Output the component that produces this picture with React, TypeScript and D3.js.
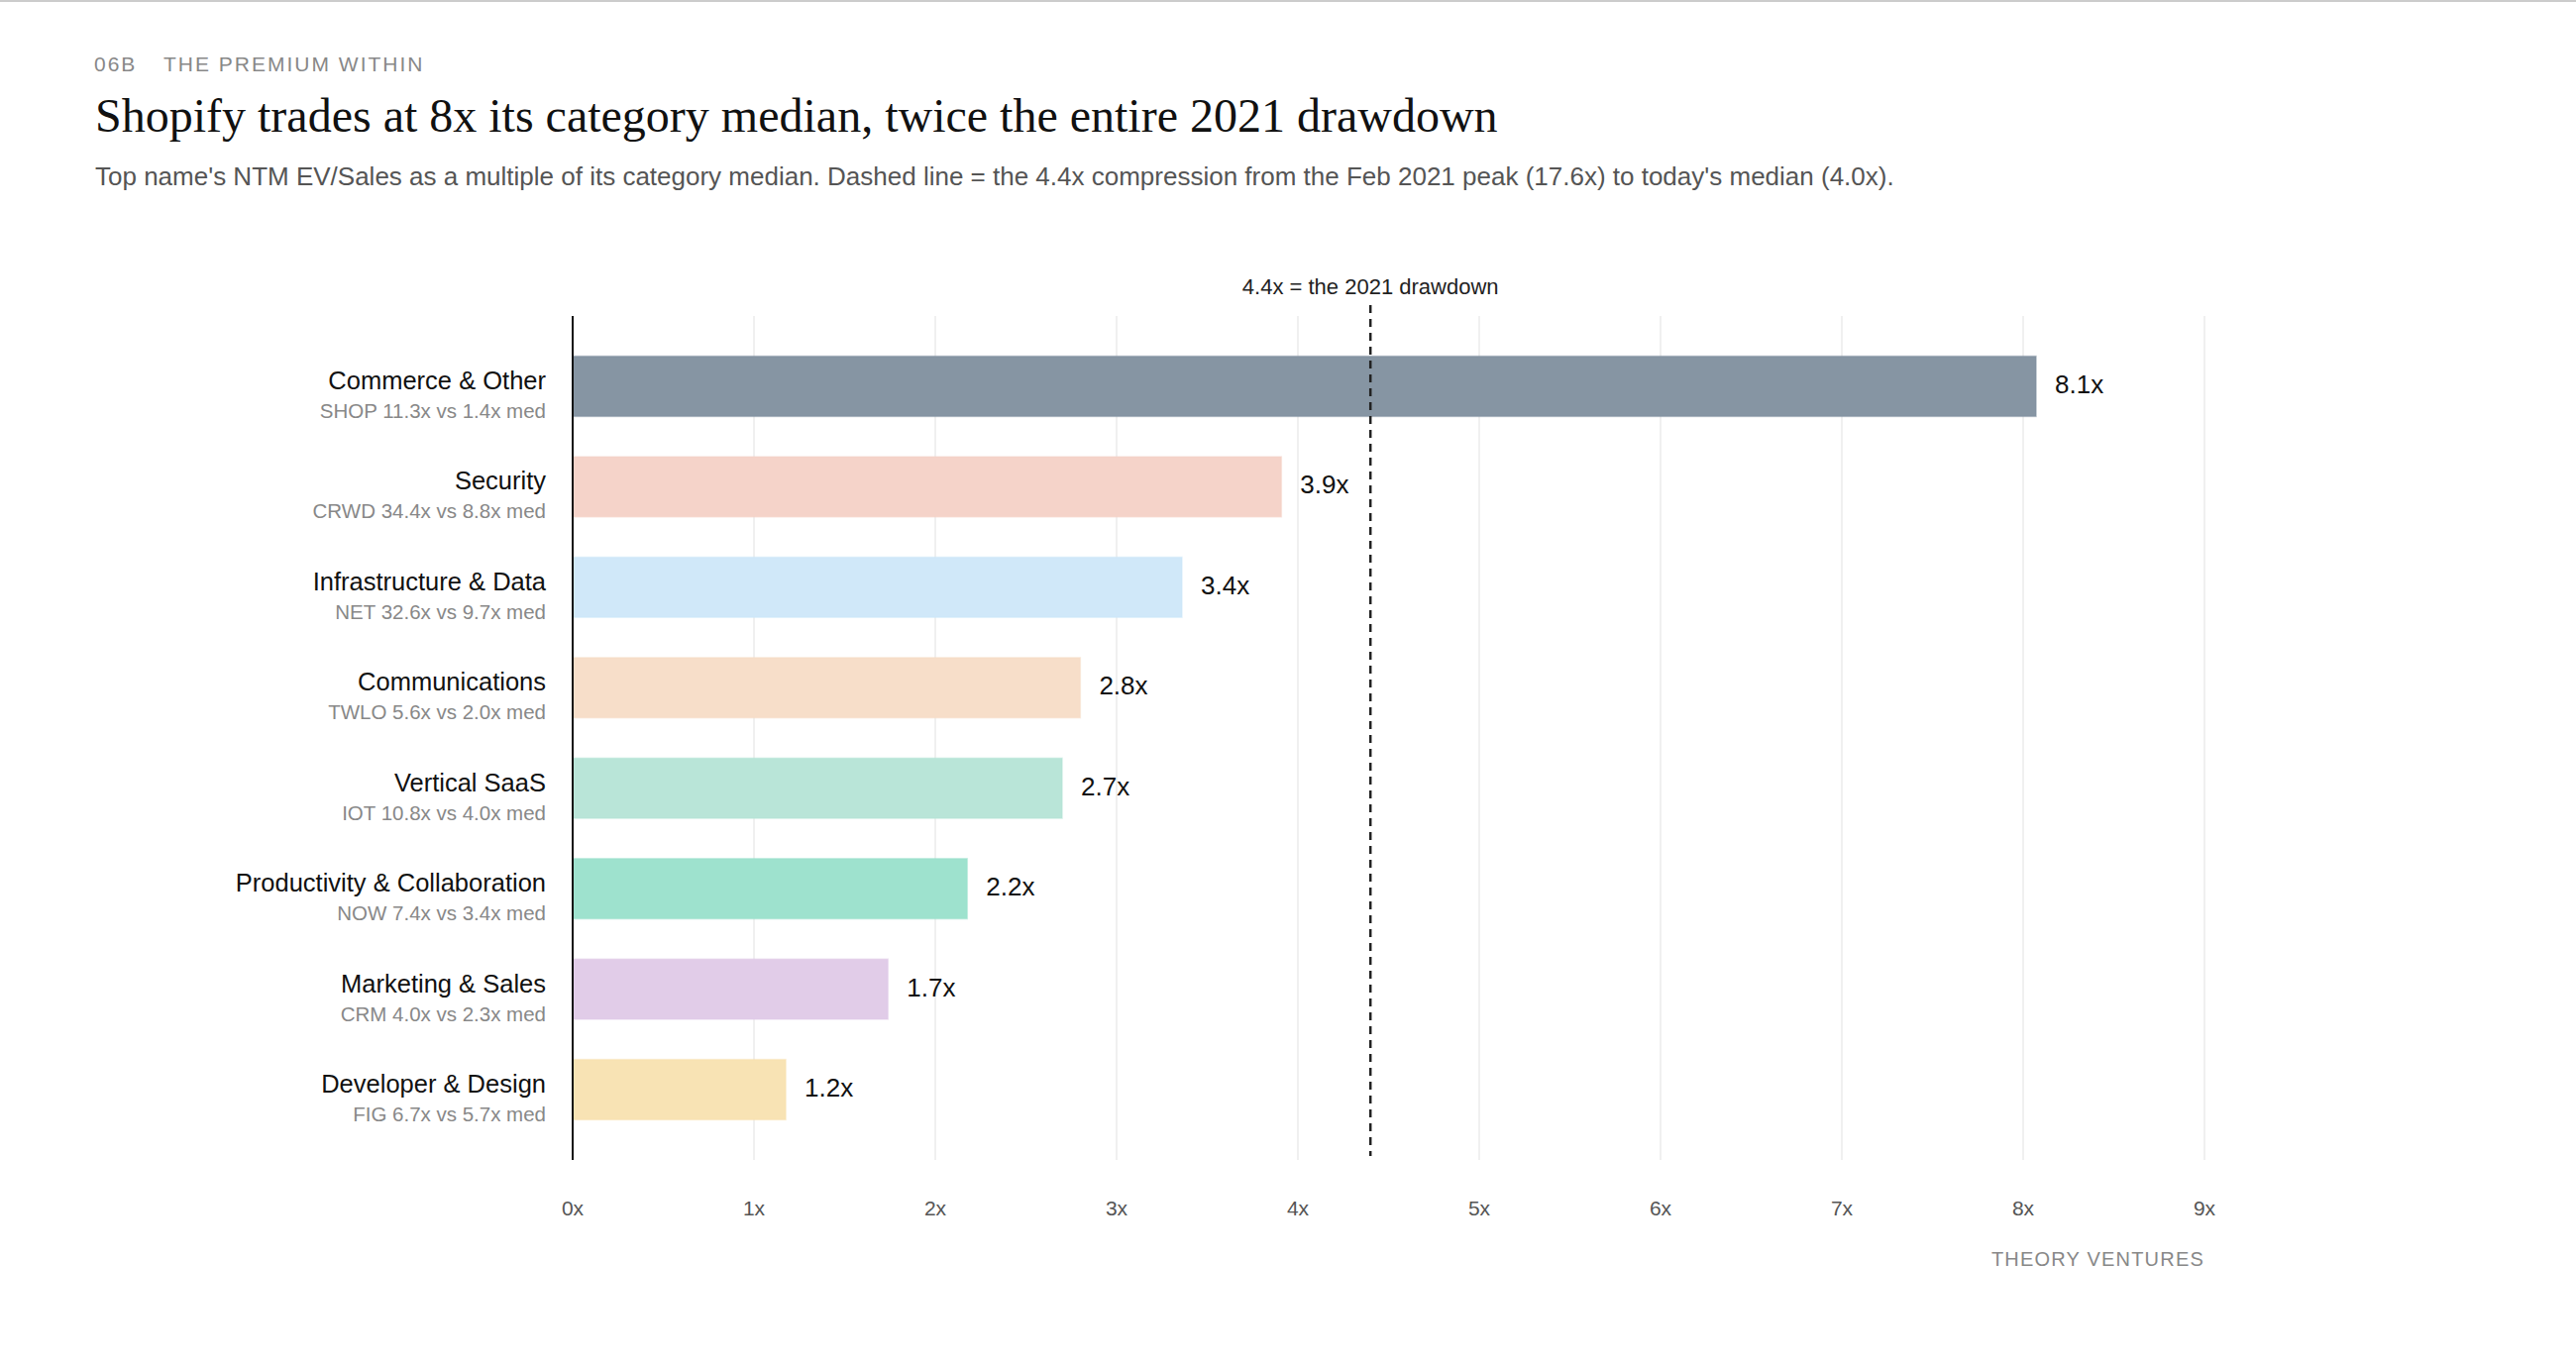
import React, { useEffect } from "react";
import * as d3 from "d3";

const categories = [
  "Commerce & Other",
  "Security",
  "Infrastructure & Data",
  "Communications",
  "Vertical SaaS",
  "Productivity & Collaboration",
  "Marketing & Sales",
  "Developer & Design",
];
const leaders = ["SHOP", "CRWD", "NET", "TWLO", "IOT", "NOW", "CRM", "FIG"];
const leaderMultiple = [11.3, 34.4, 32.6, 5.6, 10.8, 7.4, 4.0, 6.7];
const medianMultiple = [1.4, 8.8, 9.7, 2.0, 4.0, 3.4, 2.3, 5.7];
const barColors = [
  "#7f8f9e",
  "#f4d1c6",
  "#cde7f9",
  "#f7dcc6",
  "#b5e4d6",
  "#99e0cb",
  "#dfc9e7",
  "#f8e1b0",
];
const ticks = [0, 1, 2, 3, 4, 5, 6, 7, 8, 9];
const drawdown = 4.4;

const SANS = "'Liberation Sans', Arial, Helvetica, sans-serif";
const SERIF = "Georgia, 'Liberation Serif', 'DejaVu Serif', serif";

export default function App() {
  useEffect(() => {
    document.body.style.margin = "0";
  }, []);

  const W = 2600;
  const H = 1378;
  const premiums = leaderMultiple.map((v, i) => v / medianMultiple[i]);
  const x = d3.scaleLinear().domain([0, 9]).range([578, 2225]);
  const y = d3
    .scaleBand<string>()
    .domain(categories)
    .range([319, 1171])
    .paddingInner(0.4)
    .paddingOuter(0.4);
  const bw = y.bandwidth();
  const axisTop = 319;
  const axisBottom = 1171;

  return (
    <svg width={W} height={H} style={{ display: "block", background: "#fff" }}>
      <rect x={0} y={0} width={W} height={2} fill="#cccccc" />

      <text x={95} y={72} fontFamily={SANS} fontSize={21} fill="#888" letterSpacing={2}>
        06B
      </text>
      <text x={165} y={72} fontFamily={SANS} fontSize={21} fill="#888" letterSpacing={2}>
        THE PREMIUM WITHIN
      </text>
      <text x={96} y={133} fontFamily={SERIF} fontSize={48} fill="#111">
        Shopify trades at 8x its category median, twice the entire 2021 drawdown
      </text>
      <text x={96} y={187} fontFamily={SANS} fontSize={26} fill="#555">
        Top name's NTM EV/Sales as a multiple of its category median. Dashed line = the 4.4x compression from the Feb 2021 peak (17.6x) to today's median (4.0x).
      </text>

      {/* gridlines */}
      {ticks
        .filter((t) => t > 0)
        .map((t) => (
          <line
            key={"g" + t}
            x1={x(t)}
            x2={x(t)}
            y1={axisTop}
            y2={axisBottom}
            stroke="#ebebeb"
            strokeWidth={1.5}
          />
        ))}

      {/* bars */}
      {categories.map((c, i) => {
        const y0 = y(c) as number;
        const cy = y0 + bw / 2;
        return (
          <g key={c}>
            <rect
              x={x(0)}
              y={y0}
              width={x(premiums[i]) - x(0)}
              height={bw}
              fill={barColors[i]}
              fillOpacity={0.95}
              stroke={barColors[i]}
              strokeOpacity={0.45}
              strokeWidth={1.5}
            />
            <text
              x={x(premiums[i]) + 19}
              y={cy + 7}
              fontFamily={SANS}
              fontSize={26}
              fill="#111"
            >
              {premiums[i].toFixed(1)}x
            </text>
            <text x={551} y={cy + 3} textAnchor="end" fontFamily={SANS} fontSize={25.5} fill="#111">
              {c}
            </text>
            <text x={551} y={cy + 32} textAnchor="end" fontFamily={SANS} fontSize={20.5} fill="#888">
              {`${leaders[i]} ${leaderMultiple[i].toFixed(1)}x vs ${medianMultiple[i].toFixed(1)}x med`}
            </text>
          </g>
        );
      })}

      {/* axis line */}
      <line x1={x(0)} x2={x(0)} y1={axisTop} y2={axisBottom} stroke="#111" strokeWidth={2} />

      {/* drawdown reference */}
      <line
        x1={x(drawdown)}
        x2={x(drawdown)}
        y1={308}
        y2={1167}
        stroke="#222"
        strokeWidth={2.5}
        strokeDasharray="8,6"
      />
      <text x={x(drawdown)} y={297} textAnchor="middle" fontFamily={SANS} fontSize={22} fill="#222">
        {drawdown.toFixed(1)}x = the 2021 drawdown
      </text>

      {/* tick labels */}
      {ticks.map((t) => (
        <text
          key={"t" + t}
          x={x(t)}
          y={1227}
          textAnchor="middle"
          fontFamily={SANS}
          fontSize={21}
          fill="#555"
        >
          {t}x
        </text>
      ))}

      <text
        x={2225}
        y={1278}
        textAnchor="end"
        fontFamily={SANS}
        fontSize={20}
        fill="#888"
        letterSpacing={1.2}
      >
        THEORY VENTURES
      </text>
    </svg>
  );
}
